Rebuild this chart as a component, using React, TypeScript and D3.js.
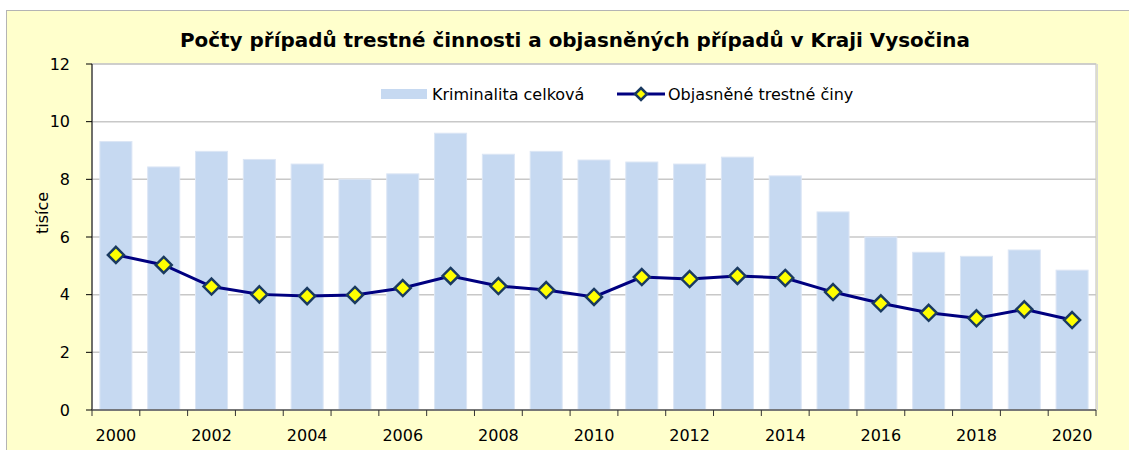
import React from "react";
import * as d3 from "d3";

const years = d3.range(2000, 2021).map(String);
const total = [9.31, 8.43, 8.97, 8.69, 8.53, 8.0, 8.19, 9.6, 8.87, 8.97, 8.67, 8.6, 8.53, 8.77, 8.12, 6.87, 6.0, 5.47, 5.33, 5.55, 4.85];
const solved = [5.38, 5.03, 4.28, 4.01, 3.95, 3.99, 4.23, 4.65, 4.3, 4.16, 3.92, 4.61, 4.54, 4.65, 4.58, 4.09, 3.7, 3.37, 3.18, 3.49, 3.12];
const yTicks = [0, 2, 4, 6, 8, 10, 12];
const xLabels = years.filter((d, i) => i % 2 === 0);

const font = "Tahoma, 'DejaVu Sans', sans-serif";

export default function App() {
  const w = 1129, h = 450;
  const margin = { top: 64, right: 33, bottom: 40, left: 92 };
  const x0 = margin.left, x1 = w - margin.right;
  const y0 = h - margin.bottom, y1 = margin.top;

  const xScale = d3.scaleBand().domain(years).range([x0, x1]);
  const yScale = d3.scaleLinear().domain([0, 12]).range([y0, y1]);
  const step = xScale.step();
  const barW = step * 0.67;
  const cx = (d: string) => (xScale(d) as number) + step / 2;

  const line = d3.line<number>()
    .x((d, i) => cx(years[i]))
    .y(d => yScale(d));

  const diamond = (x: number, y: number, r: number) =>
    `M${x},${y - r}L${x + r},${y}L${x},${y + r}L${x - r},${y}Z`;

  return (
    <svg width={w} height={h} style={{ position: "absolute", left: 0, top: 0 }} fontFamily={font}>
      <rect x={6.5} y={10.5} width={1130} height={450} fill="#FFFFCC" stroke="#B4B4B4" />
      <rect x={x0} y={y1} width={x1 - x0} height={y0 - y1} fill="#fff" stroke="#BDBDBD" />
      <line x1={x1 + 1.5} x2={x1 + 1.5} y1={y1} y2={y0} stroke="#DADADA" />

      {yTicks.filter(t => t > 0).map(t => (
        <line key={t} x1={x0} x2={x1} y1={yScale(t)} y2={yScale(t)} stroke="#C8C8C8" strokeWidth={1.5} />
      ))}

      {years.map((d, i) => (
        <rect key={d} x={cx(d) - barW / 2} y={yScale(total[i])} width={barW}
          height={y0 - yScale(total[i])} fill="#C6D9F1" stroke="#DCE6F5" strokeWidth={1} />
      ))}

      <path d={line(solved) || ""} fill="none" stroke="#000080" strokeWidth={3} />
      {solved.map((v, i) => (
        <path key={i} d={diamond(cx(years[i]), yScale(v), 8)} fill="#FFFF00" stroke="#1A3A60" strokeWidth={2.5} />
      ))}

      {/* axes */}
      <line x1={x0} x2={x0} y1={y1} y2={y0} stroke="#000" />
      <line x1={x0} x2={x1} y1={y0} y2={y0} stroke="#555" strokeWidth={1.5} />
      {yTicks.map(t => (
        <g key={t}>
          <line x1={x0 - 6} x2={x0} y1={yScale(t)} y2={yScale(t)} stroke="#000" />
          <text x={70} y={yScale(t)} dy="0.35em" textAnchor="end" fontSize={16}>{t}</text>
        </g>
      ))}
      {years.concat(["end"]).map((d, i) => (
        <line key={d} x1={x0 + i * step} x2={x0 + i * step} y1={y0} y2={y0 + 6} stroke="#333" />
      ))}
      {xLabels.map(d => (
        <text key={d} x={cx(d)} y={y0 + 25} dy="0.35em" textAnchor="middle" fontSize={16}>{d}</text>
      ))}

      <text transform={`translate(42,${213}) rotate(-90)`} textAnchor="middle" dy="0.35em" fontSize={16}>tisíce</text>

      <text x={575} y={40} textAnchor="middle" dy="0.35em" fontSize={20} fontWeight="bold"
        textLength={790} lengthAdjust="spacingAndGlyphs">
        Počty případů trestné činnosti a objasněných případů v Kraji Vysočina
      </text>

      {/* legend */}
      <rect x={381} y={89} width={46} height={10} fill="#C6D9F1" />
      <text x={432} y={94} dy="0.35em" fontSize={16}>Kriminalita celková</text>
      <line x1={617} x2={665} y1={94} y2={94} stroke="#000080" strokeWidth={3} />
      <path d={diamond(641, 94, 6)} fill="#FFFF00" stroke="#1A3A60" strokeWidth={2.5} />
      <text x={668} y={94} dy="0.35em" fontSize={16}>Objasněné trestné činy</text>
    </svg>
  );
}
